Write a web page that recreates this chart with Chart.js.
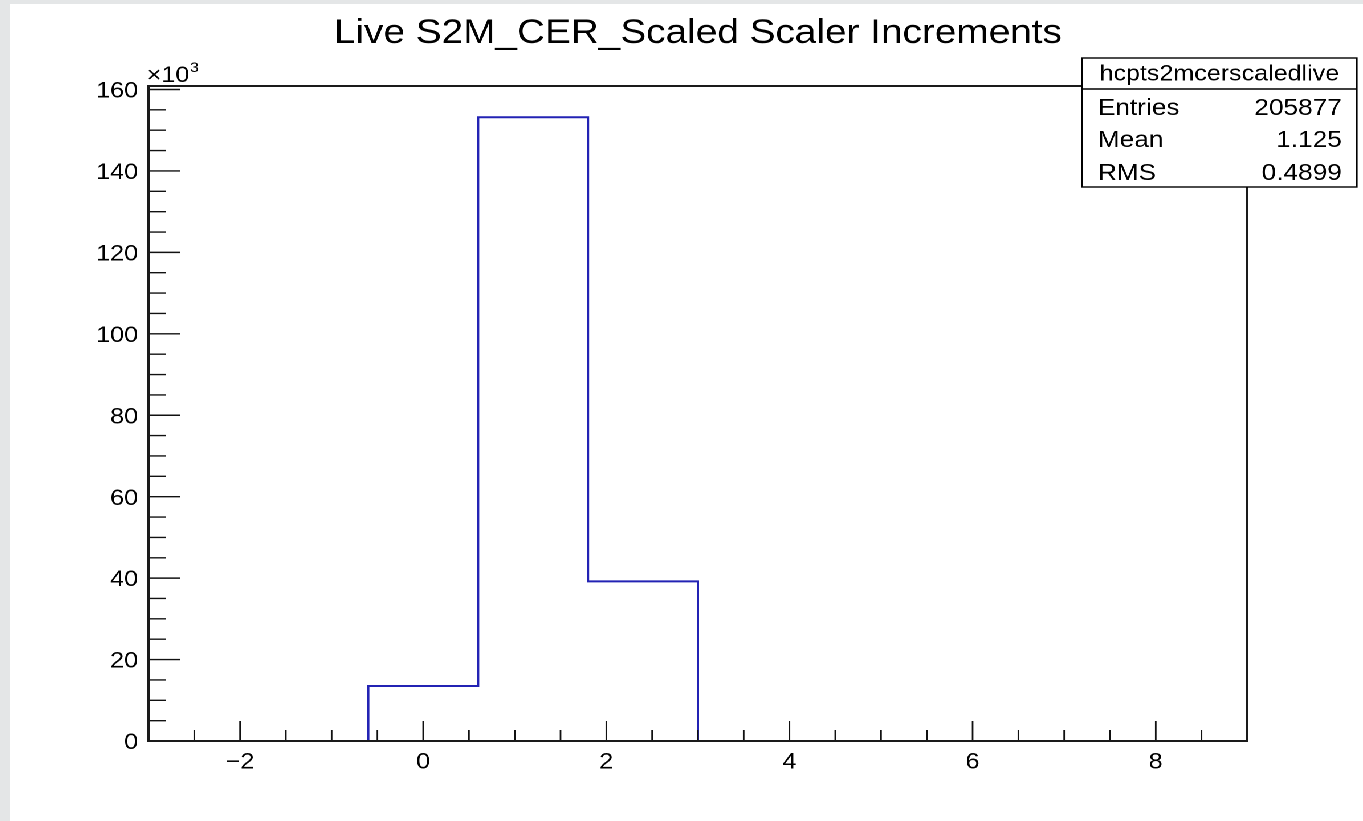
<!DOCTYPE html>
<html>
<head>
<meta charset="utf-8">
<script src="https://cdn.jsdelivr.net/npm/chart.js@4.4.1/dist/chart.umd.min.js"></script>
<style>
  html, body { margin: 0; padding: 0; background: #e4e6e7; width: 1363px; height: 821px; overflow: hidden; }
  #wrap { position: absolute; left: 10px; top: 4px; width: 1187px; height: 817px; background: #fff;
          transform: scaleX(1.13985); transform-origin: 0 0; }
  #fill { position: absolute; left: 10px; top: 4px; width: 1353px; height: 817px; background: #fff; }
</style>
</head>
<body>
<div id="fill"></div>
<div id="wrap"><canvas id="c"></canvas></div>
<script>
// ---- data (counts in units of 10^3) ----
const titleText = 'Live S2M_CER_Scaled Scaler Increments';
const histName = 'hcpts2mcerscaledlive';
const binEdges = [-3.0, -1.8, -0.6, 0.6, 1.8, 3.0, 4.2, 5.4, 6.6, 7.8, 9.0];
const binCounts = [0, 0, 13.5, 153.2, 39.2, 0, 0, 0, 0, 0];
const xTickValues = [-2, 0, 2, 4, 6, 8];
const yTickValues = [0, 20, 40, 60, 80, 100, 120, 140, 160];
const statsLabels = ['Entries', 'Mean', 'RMS'];
const statsValues = ['205877', '1.125', '0.4899'];
const xRange = [-3, 9];
const yRange = [0, 160.86];
const xMinorStep = 0.5, xMajorStep = 2;
const yMinorStep = 5, yMajorStep = 20;

const FONT = "'Liberation Sans', Arial, Helvetica, sans-serif";
const fmt = v => (v < 0 ? '\u2212' + Math.abs(v) : String(v));

const points = binEdges.map((e, i) => ({ x: e, y: i < binCounts.length ? binCounts[i] : 0 }));

const overlay = {
  id: 'overlay',
  afterDatasetsDraw(chart) {
    const { ctx, chartArea: a, scales: { x, y } } = chart;
    ctx.save();
    ctx.strokeStyle = '#111';
    ctx.lineWidth = 1.4;
    ctx.beginPath();
    const nx = Math.round((xRange[1] - xRange[0]) / xMinorStep);
    for (let i = 1; i < nx; i++) {
      const v = xRange[0] + i * xMinorStep;
      const px = x.getPixelForValue(v);
      const r = v / xMajorStep;
      const major = Math.abs(r - Math.round(r)) < 1e-6;
      ctx.moveTo(px, a.bottom);
      ctx.lineTo(px, a.bottom - (major ? 20 : 11));
    }
    for (let v = yMinorStep; v < yRange[1]; v += yMinorStep) {
      const py = y.getPixelForValue(v);
      const major = v % yMajorStep === 0;
      ctx.moveTo(a.left, py);
      ctx.lineTo(a.left + (major ? 28 : 15), py);
    }
    ctx.stroke();
    ctx.strokeStyle = '#1a1a1a';
    ctx.lineWidth = 2;
    ctx.strokeRect(a.left, a.top, a.right - a.left, a.bottom - a.top);
    ctx.restore();
  },
  afterDraw(chart) {
    const { ctx, chartArea: a } = chart;
    ctx.save();
    // x10^3 multiplier
    ctx.fillStyle = '#000';
    ctx.textBaseline = 'alphabetic';
    ctx.textAlign = 'left';
    ctx.font = '22px ' + FONT;
    const base = '\u00d710';
    ctx.fillText(base, a.left - 1.5, 78);
    const w = ctx.measureText(base).width;
    ctx.font = '14px ' + FONT;
    ctx.fillText('3', a.left - 1.5 + w + 0.5, 68);
    // stats box
    const bx = 940.4, by = 54, bw = 241.2, bh = 129, hdr = 31;
    ctx.fillStyle = '#fff';
    ctx.fillRect(bx, by, bw, bh);
    ctx.strokeStyle = '#000';
    ctx.lineWidth = 1.4;
    ctx.strokeRect(bx, by, bw, bh);
    ctx.beginPath();
    ctx.moveTo(bx, by + hdr);
    ctx.lineTo(bx + bw, by + hdr);
    ctx.stroke();
    ctx.fillStyle = '#000';
    ctx.font = '22px ' + FONT;
    ctx.textAlign = 'center';
    ctx.textBaseline = 'middle';
    ctx.fillText(histName, bx + bw / 2, by + hdr / 2 + 1);
    ctx.font = '23px ' + FONT;
    ctx.textBaseline = 'alphabetic';
    const baselines = [111, 143, 176];
    statsLabels.forEach((lab, i) => {
      ctx.textAlign = 'left';
      ctx.fillText(lab, 954.4, baselines[i]);
      ctx.textAlign = 'right';
      ctx.fillText(statsValues[i], 1168.4, baselines[i]);
    });
    ctx.restore();
  }
};

new Chart(document.getElementById('c'), {
  type: 'line',
  data: {
    datasets: [{
      data: points,
      stepped: true,
      borderColor: '#2323b4',
      borderWidth: 2,
      pointRadius: 0,
      fill: false,
      tension: 0
    }]
  },
  options: {
    responsive: true,
    maintainAspectRatio: false,
    devicePixelRatio: 2,
    animation: false,
    events: [],
    layout: { padding: { left: 0, right: 101.5, top: 0, bottom: 0 } },
    plugins: {
      legend: { display: false },
      tooltip: { enabled: false },
      title: {
        display: true,
        text: titleText,
        fullSize: false,
        align: 'center',
        color: '#000',
        font: { family: FONT, size: 34, weight: 'normal', lineHeight: 1.2 },
        padding: { top: 9.2, bottom: 32 }
      }
    },
    scales: {
      x: {
        type: 'linear',
        min: xRange[0],
        max: xRange[1],
        grid: { display: false, drawTicks: false },
        border: { display: false },
        afterBuildTicks: s => { s.ticks = xTickValues.map(v => ({ value: v })); },
        afterFit: s => { s.height = 80; },
        ticks: {
          color: '#000',
          padding: 8,
          maxRotation: 0,
          autoSkip: false,
          font: { family: FONT, size: 22 },
          callback: v => fmt(v)
        }
      },
      y: {
        type: 'linear',
        min: yRange[0],
        max: yRange[1],
        grid: { display: false, drawTicks: false },
        border: { display: false },
        afterBuildTicks: s => { s.ticks = yTickValues.map(v => ({ value: v })); },
        afterFit: s => { s.width = 121.5; },
        ticks: {
          color: '#000',
          padding: 9.2,
          labelOffset: 2,
          autoSkip: false,
          font: { family: FONT, size: 22 },
          callback: v => fmt(v)
        }
      }
    }
  },
  plugins: [overlay]
});
</script>
</body>
</html>
